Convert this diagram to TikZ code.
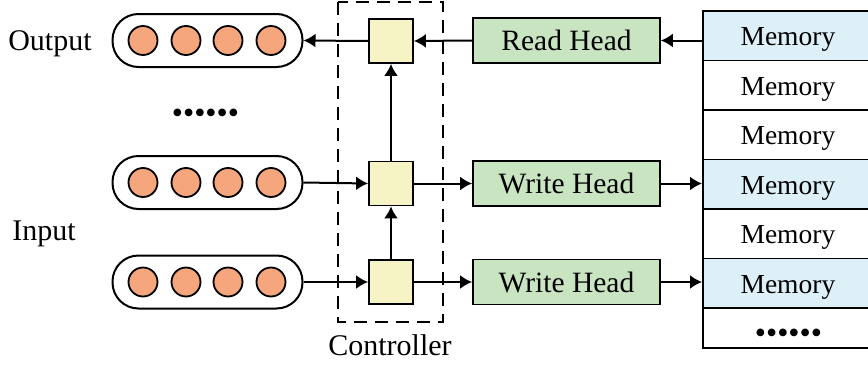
\documentclass[tikz,border=0pt]{standalone}
\usepackage{fontspec}
\setmainfont{Liberation Serif}
\usetikzlibrary{arrows.meta}
\definecolor{orng}{RGB}{246,166,124}
\definecolor{ylw}{RGB}{246,244,196}
\definecolor{grn}{RGB}{200,228,192}
\definecolor{blu}{RGB}{221,240,247}
\tikzset{
  lbl/.style={font=\fontsize{30}{32}\selectfont, inner sep=0pt},
  pill/.style={draw, line width=2pt, rounded corners=26pt, minimum width=190pt, minimum height=53pt, inner sep=0pt},
  neuron/.style={circle, draw, fill=orng, line width=1.8pt, minimum size=29pt, inner sep=0pt},
  ctrl/.style={draw, fill=ylw, line width=1.8pt, minimum size=44pt, inner sep=0pt},
  head/.style={draw, fill=grn, line width=1.8pt, minimum width=187pt, minimum height=45pt, inner sep=0pt, font=\fontsize{29.5}{32}\selectfont},
  mem/.style={draw, line width=1.8pt, minimum width=170pt, inner sep=0pt, anchor=north west, font=\fontsize{27.5}{30}\selectfont, text height=24pt, text depth=3.5pt},
  arr/.style={-{Latex[length=12pt,width=14pt]}, line width=2pt},
  dotsn/.style={inner sep=0pt, font=\fontsize{32}{32}\selectfont},
}
\begin{document}
\begin{tikzpicture}[x=1pt,y=-1pt]
\useasboundingbox (0,0) rectangle (868,367);
\clip (0,0) rectangle (868,367);
% labels
\node[lbl] (lout) at (50,44) {Output};
\node[lbl] (lin) at (44,234) {Input};
\node[lbl] (lctrl) at (390,345) {Controller};
% pills
\node[pill] (p1) at (207.5,40.5) {};
\node[pill] (p2) at (207.5,182.5) {};
\node[pill] (p3) at (207.5,282) {};
\foreach \p/\y in {1/40.5,2/182.5,3/282}{
  \foreach \i/\x in {1/143,2/186,3/228,4/271}{
    \node[neuron] (n\p\i) at (\x,\y) {};
  }
}
\node[dotsn] (d1) at (205.5,116) {••••••};
% controller
\draw[dashed, dash pattern=on 13pt off 8pt, line width=1.8pt] (338,2) rectangle (443,322);
\node[ctrl] (c1) at (391,41) {};
\node[ctrl] (c2) at (391,183.5) {};
\node[ctrl] (c3) at (391,282) {};
% heads
\node[head] (rh) at (566.5,40.5) {Read Head};
\node[head] (w1) at (566.5,183.5) {Write Head};
\node[head] (w2) at (566.5,282) {Write Head};
% memory
\node[mem, fill=blu, minimum height=49.5pt] (m1) at (702,10) {Memory};
\node[mem, minimum height=49.5pt] (m2) at (702,59.5) {Memory};
\node[mem, minimum height=49.5pt] (m3) at (702,109) {Memory};
\node[mem, fill=blu, minimum height=49.5pt] (m4) at (702,158.5) {Memory};
\node[mem, minimum height=49.5pt] (m5) at (702,208) {Memory};
\node[mem, fill=blu, minimum height=49.5pt] (m6) at (702,257.5) {Memory};
\node[mem, minimum height=40pt, text height=0pt, text depth=0pt] (m7) at (702,307) {};
\node[dotsn] (d2) at (788.5,336) {••••••};
% arrows
\draw[arr] (rh.east -| m1.west) -- (rh.east);
\draw[arr] (rh.west) -- (c1.east);
\draw[arr] (c1.west) -- (p1.east);
\draw[arr] (c2.north) -- (c1.south);
\draw[arr] (c3.north) -- (c2.south);
\draw[arr] (p2.east) -- (c2.west);
\draw[arr] (p3.east) -- (c3.west);
\draw[arr] (c2.east) -- (w1.west);
\draw[arr] (c3.east) -- (w2.west);
\draw[arr] (w1.east) -- (w1.east -| m4.west);
\draw[arr] (w2.east) -- (w2.east -| m6.west);
\end{tikzpicture}
\end{document}
